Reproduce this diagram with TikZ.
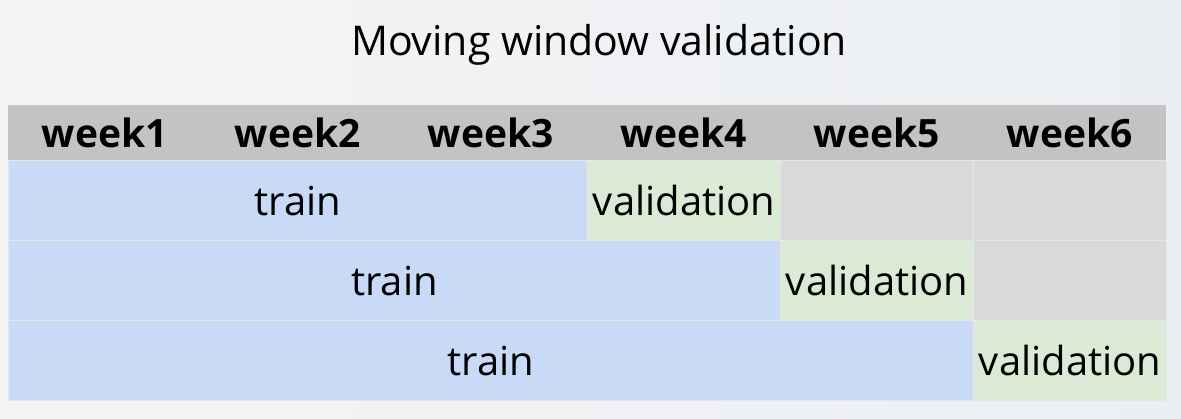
\documentclass[tikz,border=0pt]{standalone}
\usepackage{fontspec}
\setmainfont{Open Sans}
\definecolor{hdr}{HTML}{C3C3C3}
\definecolor{trn}{HTML}{C9DAF6}
\definecolor{val}{HTML}{DAEAD4}
\definecolor{emp}{HTML}{D9D9D9}
\definecolor{grid}{HTML}{E6E6E6}
\definecolor{bgl}{HTML}{F4F4F5}
\definecolor{bgr}{HTML}{EBEFF3}
\begin{document}
\begin{tikzpicture}[x=1pt,y=-1pt,
  cell/.style={rectangle,anchor=north west,inner sep=0pt,draw=grid,line width=1.2pt,minimum height=80pt,font=\fontsize{40}{44}\selectfont},
  hcell/.style={rectangle,anchor=north west,inner sep=0pt,fill=hdr,minimum width=193pt,minimum height=55pt,font=\fontsize{39}{42}\selectfont\bfseries},
  trainbox/.style={cell,fill=trn},
  valbox/.style={cell,fill=val,minimum width=193pt},
  emptybox/.style={cell,fill=emp,minimum width=193pt}]
\shade[left color=bgl,right color=bgr] (0,0) rectangle (1181,418);
\useasboundingbox (0,0) rectangle (1181,418);
\node[font=\fontsize{41}{44}\selectfont] (title) at (599,45) {Moving window validation};
% header
\foreach \i in {1,...,6}{
  \node[hcell] (h\i) at ({8+193*(\i-1)},105) {week\i};
}
% row 1
\node[trainbox,minimum width=579pt] (t1) at (8,160) {train};
\node[valbox] (v1) at (587,160) {validation};
\node[emptybox] (e1a) at (780,160) {};
\node[emptybox] (e1b) at (973,160) {};
% row 2
\node[trainbox,minimum width=772pt] (t2) at (8,240) {train};
\node[valbox] (v2) at (780,240) {validation};
\node[emptybox] (e2) at (973,240) {};
% row 3
\node[trainbox,minimum width=965pt] (t3) at (8,320) {train};
\node[valbox] (v3) at (973,320) {validation};
\end{tikzpicture}
\end{document}
